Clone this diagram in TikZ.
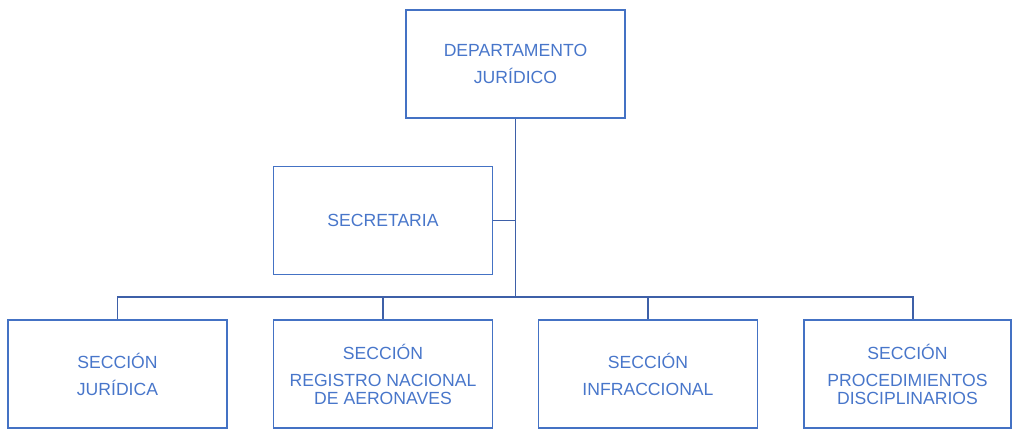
\documentclass[tikz,border=0pt]{standalone}
\usepackage{fontspec}
\setmainfont{Liberation Sans}
\usetikzlibrary{calc}

\definecolor{boxblue}{RGB}{68,114,196}
\definecolor{textblue}{RGB}{72,118,202}
\definecolor{lineblue}{RGB}{62,96,168}

\tikzset{unitbox/.style={draw=boxblue, line width=1.4pt, rectangle,
           minimum width=219pt, minimum height=108pt, align=center,
           text=textblue, font=\fontsize{17.6}{18}\selectfont},
         tie/.style={draw=lineblue, line width=1.6pt}}

\begin{document}
\begin{tikzpicture}[
    x = 1pt, y = -1pt,  % pixel grid of the reference
    every node/.style = {unitbox}
  ]
  \useasboundingbox (0,0) rectangle (1013,430);
  \node (Jefe) at (515.5,64) {DEPARTAMENTO\\[9pt]JURÍDICO};
  \node (Secretaria) at (383,220.5) {SECRETARIA};
  \node (Juridica) at (117.5,374) {SECCIÓN\\[9pt]JURÍDICA};
  \node (Registro) at (383,374) {SECCIÓN\\[9pt]REGISTRO NACIONAL\\DE AERONAVES};
  \node (Infraccional) at (648,374) {SECCIÓN\\[9pt]INFRACCIONAL};
  \node[minimum width = 207pt] (Procedimientos) at (907.5,374)
    {SECCIÓN\\[9pt]PROCEDIMIENTOS\\DISCIPLINARIOS};
  \coordinate (Bus) at (515.5,297);
  \begin{scope}[every path/.style = {tie}]
    \draw (Jefe.south) -- (Bus);
    \draw (Secretaria.east) -- (Secretaria.east -| Bus);
    \draw (Bus) -| (Juridica.north);
    \draw (Bus) -| (Registro.north);
    \draw (Bus) -| (Infraccional.north);
    \draw (Bus) -| ($(Procedimientos.north)+(5.5,0)$);
  \end{scope}
\end{tikzpicture}
\end{document}
